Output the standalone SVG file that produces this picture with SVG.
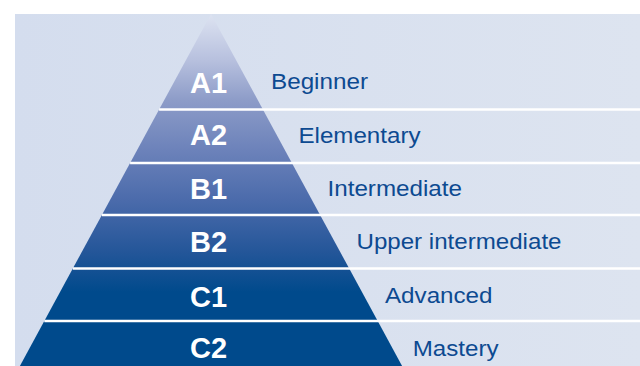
<svg xmlns="http://www.w3.org/2000/svg" width="640" height="366" viewBox="0 0 640 366">
<defs>
<linearGradient id="bg" x1="0" y1="0" x2="1" y2="0">
<stop offset="0" stop-color="#d4ddee"/>
<stop offset="1" stop-color="#dde4f0"/>
</linearGradient>
<linearGradient id="pyr" gradientUnits="userSpaceOnUse" x1="0" y1="14" x2="0" y2="292">
<stop offset="0" stop-color="#dde3f1"/>
<stop offset="0.167" stop-color="#b7c0de"/>
<stop offset="0.31" stop-color="#8d9cc8"/>
<stop offset="0.49" stop-color="#6c82ba"/>
<stop offset="0.67" stop-color="#4b6bab"/>
<stop offset="0.855" stop-color="#245699"/>
<stop offset="1" stop-color="#004a8c"/>
</linearGradient>
</defs>
<style>
.band{fill:url(#pyr);}
.lvl{font-family:"Liberation Sans",Arial,sans-serif;font-weight:bold;font-size:29px;fill:#ffffff;text-anchor:middle;}
.desc{font-family:"Liberation Sans",Arial,sans-serif;font-size:22px;fill:#0d4a91;}
.sep{stroke:#ffffff;stroke-width:2.5;fill:none;}
</style>
<rect x="15" y="14" width="625" height="352" fill="url(#bg)"/>
<g id="level-a1">
<polygon class="band" points="211,14 262.9,109.5 159.1,109.5"/>
<text class="lvl" x="208.5" y="92.6">A1</text>
<text class="desc" x="271" y="89.3" textLength="97" lengthAdjust="spacingAndGlyphs">Beginner</text>
</g>
<g id="level-a2">
<polygon class="band" points="159.1,109.5 262.9,109.5 291.9,163 130.1,163"/>
<text class="lvl" x="208.5" y="145">A2</text>
<text class="desc" x="298.5" y="142.6" textLength="122" lengthAdjust="spacingAndGlyphs">Elementary</text>
</g>
<g id="level-b1">
<polygon class="band" points="130.1,163 291.9,163 320.1,215 101.9,215"/>
<text class="lvl" x="208.5" y="198.6">B1</text>
<text class="desc" x="327.5" y="196" textLength="134.5" lengthAdjust="spacingAndGlyphs">Intermediate</text>
</g>
<g id="level-b2">
<polygon class="band" points="101.9,215 320.1,215 349.2,268.5 72.8,268.5"/>
<text class="lvl" x="208.5" y="251.6">B2</text>
<text class="desc" x="356.5" y="249.3" textLength="205" lengthAdjust="spacingAndGlyphs">Upper intermediate</text>
</g>
<g id="level-c1">
<polygon class="band" points="72.8,268.5 349.2,268.5 377.7,321 44.3,321"/>
<text class="lvl" x="208.5" y="306.6">C1</text>
<text class="desc" x="385" y="302.6" textLength="107.5" lengthAdjust="spacingAndGlyphs">Advanced</text>
</g>
<g id="level-c2">
<polygon class="band" points="44.3,321 377.7,321 402.1,366 19.9,366"/>
<text class="lvl" x="208.5" y="357.6">C2</text>
<text class="desc" x="412.7" y="356" textLength="85.8" lengthAdjust="spacingAndGlyphs">Mastery</text>
</g>
<g id="separators">
<line class="sep" x1="159.1" y1="109.5" x2="640" y2="109.5"/>
<line class="sep" x1="130.1" y1="163" x2="640" y2="163"/>
<line class="sep" x1="101.9" y1="215" x2="640" y2="215"/>
<line class="sep" x1="72.8" y1="268.5" x2="640" y2="268.5"/>
<line class="sep" x1="44.3" y1="321" x2="640" y2="321"/>
</g>
</svg>
